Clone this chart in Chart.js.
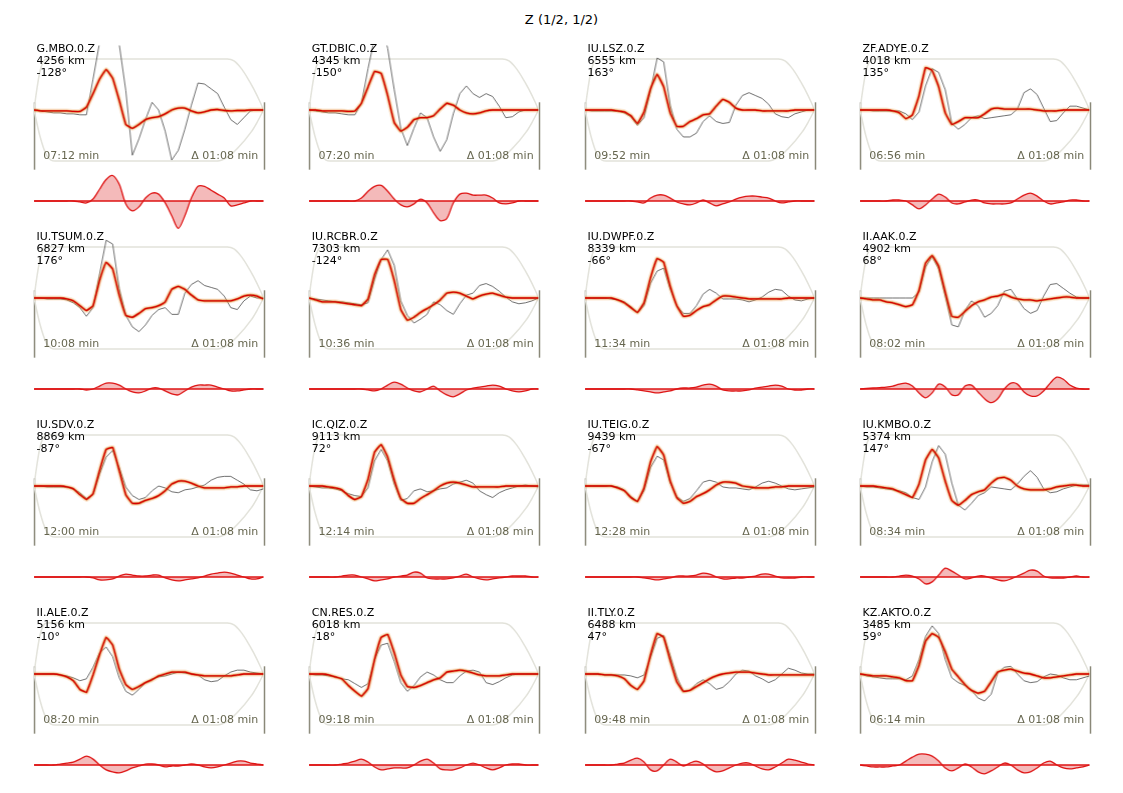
<!DOCTYPE html>
<html><head><meta charset="utf-8">
<script src="https://cdn.jsdelivr.net/npm/chart.js@4.4.1/dist/chart.umd.min.js"></script>
<style>
html,body{margin:0;padding:0;background:#fff;}
body{width:1123px;height:793px;position:relative;overflow:hidden;font-family:"DejaVu Sans",sans-serif;}
.box{position:absolute;}
.lbl{position:absolute;font-size:11px;line-height:12px;color:#000;white-space:pre;z-index:5;}
.tm{position:absolute;font-size:11px;line-height:12px;color:#66664f;white-space:nowrap;z-index:5;}
#title{position:absolute;left:0;width:1123px;top:12px;text-align:center;font-size:13px;line-height:15px;color:#000;}
</style></head><body>
<div id="title">Z (1/2, 1/2)</div>
<script>
// ---------- station metadata ----------
const stations = ["G.MBO.0.Z","GT.DBIC.0.Z","IU.LSZ.0.Z","ZF.ADYE.0.Z","IU.TSUM.0.Z","IU.RCBR.0.Z","IU.DWPF.0.Z","II.AAK.0.Z","IU.SDV.0.Z","IC.QIZ.0.Z","IU.TEIG.0.Z","IU.KMBO.0.Z","II.ALE.0.Z","CN.RES.0.Z","II.TLY.0.Z","KZ.AKTO.0.Z"];
const distancesKm = [4256,4345,6555,4018,6827,7303,8339,4902,8869,9113,9439,5374,5156,6018,6488,3485];
const azimuthsDeg = [-128,-150,163,135,176,-124,-66,68,-87,72,-67,147,-10,-18,47,59];
const startTimes = ["07:12","07:20","09:52","06:56","10:08","10:36","11:34","08:02","12:00","12:14","12:28","08:34","08:20","09:18","09:48","06:14"];
const windowLen = "01:08";

// ---------- taper envelope (sample index, amplitude) ----------
const envTopX = [0,0.4,0.9,1.4,1.9,29.5,30.5,31.5,32.5,33.5,34.5,35];
const envTopY = [0,20,40,50,53,53,51,44,34,22,8,0];
const envBotX = [0,0.9,1.9,2.6,3.2,28,29.5,31,33.1,34,35];
const envBotY = [0,-27,-47,-52,-53,-53,-49,-40,-23,-13,0];
const edgeTop = 8, edgeBot = -62;

// ---------- waveforms: observed, synthetic, residual ----------
const obs_GMBO = [0,-0.7,-2,-3,-3,-4,-4,-5,-5,32,70,100,100,68,20,-47,-30,-10,8,0,-22,-52,-42,-20,5,28,27,22,17,3,-10,-15,-8,-1,0,0];
const syn_GMBO = [0,-1,-1,-1,-1,-1,-1.5,-1.5,3,17,32,42,33,10,-15,-19,-15,-10,-8,-7,-4,0,2,2,-1,-3,-2,0,0.5,-0.5,-1,-0.5,-0.5,0,0,0];
const res_GMBO = [0,0,0,0,0,0,0,-1,-2,2,12,22,26,17,-3,-10,-6,3,8,7,-2,-15,-28,-15,3,15,15,11,7,3,-5,-4,-2,0,0,0];

const obs_DBIC = [0,-1,-2,-3,-3,-4,-5,-5,7,43,75,90,64,21,-19,-37,-19,-3,-8,-28,-43,-31,-4,17,25,17,13,17,14,4,-8,-7,-2,0,0,0];
const syn_DBIC = [0,0,-1,-1,-1,-1,-1.5,-1,7,24,40,38,15,-13,-22,-18,-10,-8,-8,-6,1,7,5,0,-3,-4,-3,-1,0,0,0,0,0,0,0,0];
const res_DBIC = [0,0,0,0,0,0,0,0,3,10,15,16,10,2,-4,-6,-3,2,-2,-12,-20,-18,-2,7,8,6,6,6,3,-2,-3,-2,0,0,0,0];

const obs_LSZ = [0,-1,-1,-1,-1,-1,-3,-7,-16,-8,20,54,50,5,-20,-28,-28,-24,-12,-6,-12,-14,-13,5,15,18,15,12,6,-4,-7,-8,-4,-2,0,0];
const syn_LSZ = [0,0,0,0,0,-1,-2,-6,-14,-2,22,37,24,-3,-17,-17,-12,-9,-5,-4,4,11,8,2,0,0,0,-1,-1,-1,-1,-1,0,0,0,0];
const res_LSZ = [0,0,0,0,0,0,0,0,-1,-2,3,6,6,3,-1,-3,-4,-2,1,-2,-5,-3,-1,2,4,5,5,4,3,0,-2,-1,0,0,0,0];

const obs_ADYE = [0,0,-1,-1,-1,-1,-1,-4,-10,-2,25,43,39,21,-14,-20,-15,-8,-6,-9,-8,-7,-6,-5,1,18,22,16,2,-12,-11,-3,4,4,2,0];
const syn_ADYE = [0,0,0,0,0,-1,-3,-9,-5,15,44,41,24,-3,-15,-12,-8,-8,-8,-4,1,2,1,1,1,1,1,0,-1,-1,-1,0,0,0,0,0];
const res_ADYE = [0,0,0,0,0,1,1,0,-4,-8,-4,2,7,4,-2,-3,-1,1,1,-2,-3,-3,-3,-2,2,6,8,5,0,-3,-2,-1,1,1,0,0];

const obs_TSUM = [0,0,-1,-1,-1,-2,-5,-10,-19,-10,25,60,56,10,-18,-30,-35,-28,-18,-12,-10,-17,-17,5,14,18,13,11,9,2,-10,-12,-3,2,0,0];
const syn_TSUM = [0,0,0,0,0,-1,-3,-8,-13,-8,18,37,30,3,-18,-20,-16,-11,-10,-8,-4,9,12,9,3,-2,-3,-3,-3,-3,-3,-1,2,3,2,-1];
const res_TSUM = [0,0,0,0,0,0,0,0,-1,0,3,6,6,4,0,-3,-4,-2,1,1,-2,-5,-6,-2,2,4,4,4,2,0,-2,-2,-1,0,0,0];

const obs_RCBR = [0,-1,-2,-3,-4,-4,-5,-6,-7,-5,19,40,50,34,-3,-18,-26,-22,-17,-4,-7,-13,-17,-6,3,5,13,15,12,7,1,-4,-6,-5,-3,0];
const syn_RCBR = [0,-2,-4,-4,-4,-5,-6,-7,-8,-1,24,40,40,18,-12,-23,-20,-15,-11,-7,-2,5,6,5,2,-1,2,4,5,3,1,0,0,0,0,0];
const res_RCBR = [0,0,0,0,0,0,0,0,0,-1,-2,0,4,7,5,1,-2,-3,0,3,-2,-6,-8,-5,-1,1,2,3,4,3,0,-2,-3,-2,0,0];

const obs_DWPF = [0,0,0,0,-1,-2,-4,-9,-15,-8,15,28,31,9,-8,-16,-16,-8,4,9,5,-1,-1,-1,-2,-4,-2,1,6,9,8,2,-2,-3,-1,0];
const syn_DWPF = [0,0,0,0,0,-2,-5,-10,-15,-5,21,41,37,12,-8,-19,-18,-13,-9,-7,-2,2,2,1,0,-1,-1,-1,-1,-1,-1,0,0,0,0,0];
const res_DWPF = [0,0,0,0,0,0,0,0,-1,-2,-3,-4,-3,-2,0,1,1,2,4,5,3,-1,-2,-2,-2,-1,1,2,3,4,3,0,-1,-1,0,0];

const obs_AAK = [0,0,0,0,0,0,0,0,0,6,32,43,30,2,-28,-30,-13,-3,-8,-20,-16,-8,7,9,-1,-11,-16,-13,2,14,15,10,5,1,0,0];
const syn_AAK = [0,-1,-2,-2,-4,-5,-7,-9,-7,8,36,44,33,6,-19,-20,-14,-8,-4,-2,1,2,4,1,-1,-2,-2,-3,-2,-1,0,1,1,0,0,0];
const res_AAK = [0,0.5,1,1.5,2,3,5,6,3,-4,-9,-4,5,2,-6,-6,3,4,-3,-10,-14,-10,0,6,5,-3,-7,-7,-2,6,12,10,4,1,0,0];

const obs_SDV = [0,0,-1,-1,-1,-1,-3,-7,-13,-9,12,30,37,19,-1,-10,-14,-12,-5,0,-2,-6,-7,-4,-3,-1,1,6,9,10,10,6,2,-4,-5,-3];
const syn_SDV = [0,0,0,0,0,-1,-3,-9,-14,-8,16,38,40,16,-9,-18,-18,-15,-13,-10,-5,2,5,5,3,0,-2,-2,-2,-2,-1,-1,0,0,0,0];
const res_SDV = [0,0,0,0,0,0,0,0,0,-1,-3,-3,-2,1,3,2,1,1,2,2,-1,-3,-4,-3,-2,-1,1,3,4,5,4,2,0,-2,-2,0];

const obs_QIZ = [0,-1,-2,-2,-3,-5,-8,-10,-11,-2,26,38,26,2,-15,-13,-5,-3,-6,-5,-3,-2,2,4,6,3,-5,-9,-12,-7,-4,-2,0,1,0,-1];
const syn_QIZ = [0,0,0,-1,-2,-4,-10,-14,-11,7,35,43,30,6,-13,-18,-18,-13,-9,-5,0,3,4,3,1,-1,-1,-1,-1,-1,0,0,0,0,0,0];
const res_QIZ = [0,0,0,0,0,1,2,2,0,-2,-4,-3,-2,0,1,2,5,4,-1,-2,-2,-2,-1,1,3,0,-2,-3,-2,-1,0,1,1,1,0,0];

const obs_TEIG = [0,0,0,0,0,-1,-4,-11,-16,-5,19,31,27,3,-11,-16,-13,-5,4,6,4,-1,-2,-2,-3,-4,-1,3,5,3,0,-3,-4,-3,-2,-1];
const syn_TEIG = [0,0,0,0,0,-2,-5,-12,-16,-2,25,41,32,5,-12,-18,-16,-11,-8,-4,1,4,4,3,0,-1,-2,-2,-2,-1,-1,0,0,0,0,0];
const res_TEIG = [0,0,0,0,0,0,0,0,0,-1,-2,-3,-2,-1,1,1,1,2,4,3,0,-2,-2,-1,-1,0,1,3,3,1,-1,-1,-1,0,0,0];

const obs_KMBO = [0,-1,-1,-2,-3,-4,-5,-7,-12,-14,-1,25,42,33,3,-20,-25,-18,-10,-7,-1,-2,-3,-4,2,10,16,9,-3,-7,-6,-3,-1,1,1,1];
const syn_KMBO = [0,0,0,-1,-2,-3,-6,-9,-12,2,27,38,29,5,-15,-20,-15,-9,-6,-4,3,8,9,6,0,-3,-4,-4,-4,-3,-1,0,1,1,0,0];
const res_KMBO = [0,0,0,0,0,0,1,2,1,-2,-7,-5,2,9,6,2,-2,-1,1,1,-1,-3,-4,-2,1,4,7,6,1,-1,-1,-1,0,1,0,0];

const obs_ALE = [0,0,0,0,-1,-2,-4,-7,-5,7,22,28,18,-4,-18,-22,-16,-9,-5,-3,-2,0,2,1,0,-1,-6,-8,-7,-2,2,4,4,2,1,0];
const syn_ALE = [0,0,0,0,-1,-3,-7,-16,-19,-1,20,38,30,5,-11,-16,-13,-9,-6,-2,0,2,2,2,0,-1,-2,-2,-2,-2,-2,-1,0,0,0,0];
const res_ALE = [0,0,0,0,1,2,3,6,9,6,0,-5,-7,-8,-6,-3,-1,1,1,0,-2,-1,-1,0,1,0,-2,-3,-2,0,2,4,4,2,1,0];

const obs_RES = [0,-1,-1,-2,-3,-5,-6,-10,-14,-10,15,30,32,13,-9,-18,-12,-3,2,-1,-6,-9,-9,-2,3,4,2,-9,-11,-8,-4,-1,0,0,0,0];
const syn_RES = [0,0,0,-1,-3,-5,-12,-18,-23,-15,15,38,41,22,-1,-13,-14,-12,-9,-6,-4,2,3,4,3,1,-1,-2,-2,-2,-1,0,0,0,0,0];
const res_RES = [0,0,0,0,0,1,2,4,6,3,-2,-5,-4,-3,-3,-3,0,4,6,2,-4,-5,-5,-3,0,2,0,-3,-5,-3,0,1,1,0,0,0];

const obs_TLY = [0,0,0,-1,-1,-1,-1,-2,-4,-1,17,37,40,19,-3,-18,-17,-10,-6,-10,-16,-14,-8,0,4,3,-2,-5,-9,-6,0,6,4,1,0,0];
const syn_TLY = [0,0,0,-1,-1,-2,-5,-12,-16,-7,20,42,38,14,-8,-18,-17,-13,-9,-5,-2,0,1,2,2,2,1,0,-1,-1,-1,-1,-1,-1,-1,-1];
const res_TLY = [0,0,0,0,0,1,2,5,7,3,-5,-6,0,6,3,-1,2,4,1,-4,-7,-6,-3,0,2,2,-1,-4,-5,-2,2,6,5,3,1,0];

const obs_AKTO = [0,-2,-3,-4,-5,-5,-5,-6,-2,15,39,50,42,15,-4,-9,-12,-17,-25,-28,-21,1,7,8,0,-7,-9,-8,-3,0,-1,-4,-6,-6,-4,-2];
const syn_AKTO = [0,-1,-2,-2,-2,-3,-4,-7,-7,9,34,42,38,23,5,-3,-11,-17,-20,-18,-8,2,4,5,3,1,0,-2,-4,-4,-3,-2,-1,0,0,0];
const res_AKTO = [0,-1,-2,-2,-2,-1,0,4,8,11,11,9,4,-3,-6,-3,1,-2,-7,-9,-6,-2,2,0,-5,-8,-7,-3,2,4,0,-3,-4,-3,-2,0];

const observed  = [obs_GMBO,obs_DBIC,obs_LSZ,obs_ADYE,obs_TSUM,obs_RCBR,obs_DWPF,obs_AAK,obs_SDV,obs_QIZ,obs_TEIG,obs_KMBO,obs_ALE,obs_RES,obs_TLY,obs_AKTO];
const synthetic = [syn_GMBO,syn_DBIC,syn_LSZ,syn_ADYE,syn_TSUM,syn_RCBR,syn_DWPF,syn_AAK,syn_SDV,syn_QIZ,syn_TEIG,syn_KMBO,syn_ALE,syn_RES,syn_TLY,syn_AKTO];
const residual  = [res_GMBO,res_DBIC,res_LSZ,res_ADYE,res_TSUM,res_RCBR,res_DWPF,res_AAK,res_SDV,res_QIZ,res_TEIG,res_KMBO,res_ALE,res_RES,res_TLY,res_AKTO];

// ---------- layout & style ----------
const COL_LEFT = [34, 309.3, 585, 860];
const ROW_ZERO = [110, 298, 486, 674];
const PLOT_W = 228.5, PAD = 4, Y_HALF = 67, RES_OFF = 90.5, RES_HALF = 33;
const C_ENV = '#e2e2da', C_EDGE = '#8a8878', C_OBS = '#4a4a4a';
const C_SYN = 'rgb(214,0,0)', C_BAND1 = 'rgba(240,165,80,0.25)', C_BAND2 = 'rgba(205,100,10,0.6)';
const C_RES = 'rgb(222,20,20)', C_RESFILL = 'rgba(228,90,90,0.42)';

Chart.defaults.animation = false;
Chart.defaults.elements.point.radius = 0;
Chart.defaults.plugins.legend.display = false;
Chart.defaults.plugins.tooltip.enabled = false;

const pts = arr => arr.map((v,i)=>({x:i,y:v}));
const xyPts = (xs,ys) => xs.map((x,i)=>({x:x,y:ys[i]}));
const NMAX = obs_GMBO.length - 1;

const edgePlugin = {
  id:'edges',
  beforeDatasetsDraw(chart){
    const {ctx, scales:{x,y}} = chart;
    ctx.save(); ctx.strokeStyle = C_EDGE; ctx.lineWidth = 1.5;
    [x.min, x.max].forEach(v=>{
      const px = Math.round(x.getPixelForValue(v))+0.5;
      ctx.beginPath(); ctx.moveTo(px, y.getPixelForValue(edgeTop)); ctx.lineTo(px, y.getPixelForValue(edgeBot)); ctx.stroke();
    });
    ctx.restore();
  }
};
const zeroPlugin = {
  id:'zeroLine',
  afterDatasetsDraw(chart){
    const {ctx, scales:{x,y}} = chart;
    ctx.save(); ctx.strokeStyle = C_RES; ctx.lineWidth = 1.5;
    const py = y.getPixelForValue(0);
    ctx.beginPath(); ctx.moveTo(x.getPixelForValue(x.min), py); ctx.lineTo(x.getPixelForValue(x.max), py); ctx.stroke();
    ctx.restore();
  }
};

function makeBox(left, top, w, h){
  const box = document.createElement('div');
  box.className = 'box';
  box.style.left = left+'px'; box.style.top = top+'px';
  box.style.width = w+'px'; box.style.height = h+'px';
  const cv = document.createElement('canvas');
  box.appendChild(cv); document.body.appendChild(box);
  return cv;
}
function baseOpts(ymin, ymax){
  return {
    responsive:true, maintainAspectRatio:false, events:[],
    layout:{padding:{left:PAD,right:PAD,top:0,bottom:0}},
    scales:{
      x:{type:'linear', min:0, max:NMAX, display:false},
      y:{type:'linear', min:ymin, max:ymax, display:false}
    }
  };
}
function addText(cls, txt, left, top, right){
  const d = document.createElement('div');
  d.className = cls; d.textContent = txt;
  d.style.top = top+'px';
  if (right !== undefined) { d.style.right = (1123-right)+'px'; } else { d.style.left = left+'px'; }
  document.body.appendChild(d);
}

stations.forEach((st,k)=>{
  const c = k%4, r = Math.floor(k/4);
  const L = COL_LEFT[c], Z = ROW_ZERO[r];

  // waveform panel
  const cv = makeBox(L-PAD, Z-Y_HALF, PLOT_W+2*PAD, 2*Y_HALF);
  new Chart(cv, {
    type:'line',
    data:{datasets:[
      {data:pts(synthetic[k]), borderColor:C_SYN, borderWidth:1.3, tension:0.1, order:0},
      {data:pts(synthetic[k]), borderColor:C_BAND2, borderWidth:2.6, tension:0.1, order:1},
      {data:pts(synthetic[k]), borderColor:C_BAND1, borderWidth:5, tension:0.1, order:2},
      {data:pts(observed[k]), borderColor:C_OBS, borderWidth:0.8, tension:0, order:3},
      {data:xyPts(envTopX,envTopY), borderColor:C_ENV, borderWidth:1.5, cubicInterpolationMode:'monotone', order:4},
      {data:xyPts(envBotX,envBotY), borderColor:C_ENV, borderWidth:1.5, cubicInterpolationMode:'monotone', order:5}
    ]},
    options: baseOpts(-Y_HALF, Y_HALF),
    plugins:[edgePlugin]
  });

  // residual panel
  const rz = Z + RES_OFF;
  const cv2 = makeBox(L-PAD, rz-RES_HALF, PLOT_W+2*PAD, 2*RES_HALF);
  new Chart(cv2, {
    type:'line',
    data:{datasets:[
      {data:pts(residual[k]), borderColor:C_RES, borderWidth:1.3, tension:0.3, fill:'origin', backgroundColor:C_RESFILL}
    ]},
    options: Object.assign(baseOpts(-RES_HALF, RES_HALF), {plugins:{filler:{propagate:false}}}),
    plugins:[zeroPlugin]
  });

  // labels
  addText('lbl', st + "\n" + distancesKm[k] + " km\n" + azimuthsDeg[k] + "\u00b0", L+2.5, Z-66.8);
  addText('tm', startTimes[k] + " min", L+9.3, Z+39.9);
  addText('tm', "\u0394 " + windowLen + " min", null, Z+39.9, L+224.3);
});
</script>
</body></html>
